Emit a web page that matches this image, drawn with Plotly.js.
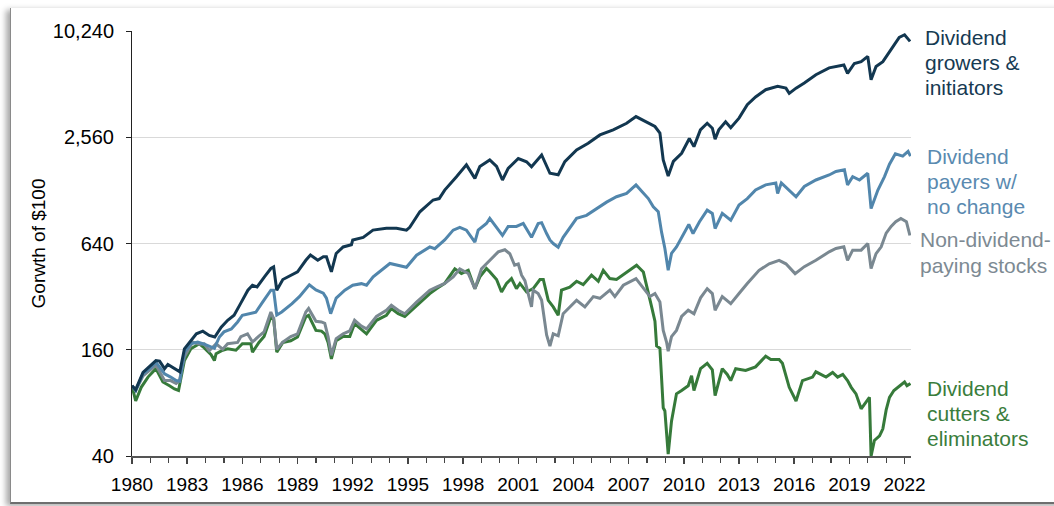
<!DOCTYPE html>
<html>
<head>
<meta charset="utf-8">
<script src="https://cdn.plot.ly/plotly-3.0.1.min.js"></script>
<style>
  html, body { margin: 0; padding: 0; background: #ffffff; }
  #frame { position: absolute; left: 10px; top: 8px; width: 1100px; height: 494px;
           background: #ffffff; border-left: 1px solid #8a8a8a; border-bottom: 2px solid #6e6e6e;
           box-shadow: -4px 2px 6px rgba(0,0,0,0.35); }
  #chart { position: absolute; left: 0; top: 0; width: 1054px; height: 506px; }
</style>
</head>
<body>
<div id="frame"></div>
<div id="chart"></div>
<script>
// ---- Data (growth of $100) ----
const growersYears = [1980.0,1980.2,1980.6,1980.95,1981.3,1981.5,1981.77,1981.95,1982.2,1982.5,1982.6,1982.85,1983.2,1983.5,1983.85,1984.2,1984.5,1984.85,1985.2,1985.55,1985.9,1986.3,1986.55,1986.8,1987.2,1987.55,1987.7,1987.87,1988.2,1988.5,1989.0,1989.45,1989.7,1990.1,1990.4,1990.57,1990.84,1991.1,1991.48,1991.93,1992.0,1992.57,1993.1,1993.83,1994.38,1994.92,1995.1,1995.65,1996.37,1996.7,1997.0,1997.64,1998.18,1998.64,1998.91,1999.45,1999.82,2000.14,2000.45,2001.0,2001.45,2001.72,2002.27,2002.72,2003.17,2003.53,2004.17,2004.8,2005.44,2006.16,2006.89,2007.4,2007.98,2008.43,2008.7,2008.88,2009.15,2009.43,2009.88,2010.3,2010.55,2010.9,2011.27,2011.55,2011.7,2011.9,2012.27,2012.55,2013.0,2013.45,2013.9,2014.45,2015.1,2015.55,2015.73,2016.1,2016.55,2017.18,2017.9,2018.27,2018.7,2018.9,2019.27,2019.64,2020.0,2020.18,2020.45,2020.82,2021.15,2021.45,2021.71,2022.0,2022.1,2022.3];
const growersValues = [100,95,119,129,139,138,125,132,127,122,120,162,181,197,204,193,189,215,235,251,292,348,371,363,414,462,472,348,400,414,442,514,551,514,539,538,442,562,612,630,670,693,762,780,780,762,790,968,1129,1150,1285,1530,1786,1497,1749,1903,1749,1466,1707,1940,1860,1741,2033,1600,1570,1862,2170,2366,2639,2819,3072,3353,3130,2944,2700,1903,1542,1868,2076,2517,2265,2818,3072,2881,2500,2818,3130,2900,3285,3912,4327,4762,4970,4860,4540,4860,5200,5790,6330,6450,6570,5890,6700,6860,7350,5420,6450,6860,7680,8600,9420,9750,9420,8940];

const payersYears = [1980.0,1980.2,1980.6,1980.95,1981.3,1981.77,1982.1,1982.4,1982.6,1982.85,1983.2,1983.57,1983.93,1984.3,1984.48,1984.75,1985.0,1985.4,1985.74,1986.0,1986.37,1986.73,1987.1,1987.55,1987.7,1987.87,1988.14,1988.7,1989.1,1989.64,1990.0,1990.4,1990.57,1990.8,1991.1,1991.57,1992.0,1992.47,1992.75,1993.11,1994.02,1994.56,1994.92,1995.47,1996.19,1996.46,1997.0,1997.46,1997.82,1998.18,1998.64,1998.82,1999.27,1999.45,1999.82,2000.14,2000.45,2000.9,2001.27,2001.72,2002.08,2002.27,2002.54,2002.72,2002.9,2003.17,2003.44,2003.8,2004.17,2004.71,2005.26,2005.8,2006.34,2006.89,2007.4,2007.8,2008.07,2008.34,2008.61,2008.79,2008.97,2009.15,2009.33,2009.6,2009.88,2010.27,2010.5,2010.85,2011.27,2011.55,2011.7,2012.09,2012.55,2013.0,2013.45,2013.9,2014.45,2015.0,2015.1,2015.3,2016.1,2016.55,2017.18,2017.9,2018.27,2018.73,2018.9,2019.18,2019.55,2020.0,2020.18,2020.55,2020.91,2021.18,2021.5,2021.9,2022.19,2022.32];
const payersValues = [100,94,117,125,136,117,112,107,106,155,173,177,172,167,163,189,202,210,230,251,256,261,298,348,348,252,262,292,320,373,349,335,314,256,314,348,371,379,371,414,493,481,469,549,612,598,671,762,791,762,651,762,831,888,791,711,800,800,831,694,831,840,729,670,640,610,694,778,888,924,1007,1098,1178,1231,1375,1231,1150,1033,968,742,600,452,562,612,694,820,729,850,989,948,778,948,868,1058,1150,1286,1375,1410,1230,1410,1178,1346,1466,1565,1637,1677,1375,1532,1466,1600,1010,1286,1532,1800,2064,2000,2130,2000];

const nonPayersYears = [1980.0,1980.2,1980.6,1980.95,1981.3,1981.77,1982.1,1982.4,1982.58,1982.85,1983.3,1983.66,1983.93,1984.2,1984.57,1984.93,1985.2,1985.74,1985.92,1986.28,1986.55,1986.9,1987.18,1987.55,1987.7,1987.87,1988.2,1988.63,1989.0,1989.45,1989.6,1990.0,1990.3,1990.48,1990.66,1990.84,1991.1,1991.48,1991.84,1992.1,1992.47,1992.75,1993.29,1993.83,1994.1,1994.47,1994.83,1995.47,1996.19,1996.55,1997.0,1997.46,1997.82,1998.28,1998.64,1999.0,1999.45,1999.91,2000.27,2000.54,2000.8,2001.0,2001.18,2001.36,2001.72,2001.81,2002.08,2002.27,2002.54,2002.72,2002.9,2003.17,2003.44,2003.8,2004.17,2004.62,2005.08,2005.44,2005.98,2006.25,2006.71,2007.4,2007.8,2008.16,2008.43,2008.7,2008.88,2009.06,2009.15,2009.33,2009.6,2009.88,2010.24,2010.55,2010.91,2011.27,2011.55,2011.7,2012.09,2012.55,2013.0,2013.45,2014.09,2014.64,2015.18,2015.55,2016.05,2016.55,2017.18,2017.9,2018.27,2018.7,2018.9,2019.18,2019.64,2020.0,2020.18,2020.45,2020.73,2021.0,2021.27,2021.52,2021.8,2022.1,2022.29];
const nonPayersValues = [100,94,114,122,131,107,107,103,107,146,177,172,173,158,173,161,173,176,190,197,177,191,202,262,240,161,177,190,197,262,274,232,230,226,190,149,185,197,205,235,218,210,247,268,286,268,256,298,348,362,380,414,460,433,355,460,514,574,590,560,482,490,423,394,280,348,333,305,194,168,197,192,256,280,305,280,320,313,348,320,371,405,355,320,333,298,206,177,157,190,206,247,268,256,315,355,333,268,320,292,333,380,451,491,514,491,432,473,514,574,600,613,514,587,587,640,462,561,613,733,800,850,888,850,711];

const cuttersYears = [1980.0,1980.2,1980.5,1980.87,1981.3,1981.68,1982.04,1982.31,1982.53,1982.85,1983.2,1983.66,1983.93,1984.3,1984.48,1984.57,1984.93,1985.2,1985.65,1986.0,1986.46,1986.55,1986.9,1987.18,1987.55,1987.7,1987.87,1988.2,1988.63,1989.0,1989.45,1989.6,1990.0,1990.3,1990.48,1990.66,1990.84,1991.1,1991.48,1991.84,1992.1,1992.47,1992.75,1993.29,1993.83,1994.1,1994.47,1994.83,1995.47,1996.19,1996.55,1997.0,1997.55,1997.91,1998.28,1998.64,1998.91,1999.27,1999.45,1999.82,2000.09,2000.36,2000.63,2000.9,2001.09,2001.45,2001.81,2002.18,2002.36,2002.63,2002.9,2003.17,2003.35,2003.8,2004.17,2004.53,2004.98,2005.35,2005.62,2005.98,2006.34,2006.8,2007.43,2007.8,2007.98,2008.25,2008.43,2008.52,2008.7,2008.88,2008.97,2009.15,2009.33,2009.6,2009.88,2010.24,2010.42,2010.55,2010.91,2011.27,2011.55,2011.7,2012.09,2012.36,2012.55,2012.82,2013.36,2013.9,2014.45,2014.73,2015.18,2015.36,2015.73,2016.1,2016.45,2017.0,2017.18,2017.73,2018.09,2018.36,2018.64,2018.9,2019.1,2019.36,2019.64,2020.09,2020.18,2020.36,2020.64,2020.82,2021.0,2021.18,2021.42,2021.71,2022.0,2022.13,2022.32];
const cuttersValues = [100,82,98,112,125,105,100,96,94,139,162,173,164,150,139,152,159,162,159,173,173,155,176,190,246,240,155,176,180,189,246,251,206,204,197,176,142,180,190,190,225,210,197,235,251,274,256,247,286,333,355,380,460,433,451,355,414,462,443,400,340,380,405,355,380,340,355,400,400,305,280,251,348,362,391,374,423,391,451,405,400,432,482,441,362,280,232,168,163,75,72,41,63,90,94,100,114,94,125,134,123,88,125,116,107,125,122,128,147,141,141,134,98,82,107,112,120,112,119,112,116,107,98,90,74,86,40,49,52,57,73,86,94,100,105,100,103];

const seriesNames = ["Dividend cutters & eliminators", "Non-dividend-paying stocks", "Dividend payers w/ no change", "Dividend growers & initiators"];
const seriesLabelLines = [
  ["Dividend", "cutters &", "eliminators"],
  ["Non-dividend-", "paying stocks"],
  ["Dividend", "payers w/", "no change"],
  ["Dividend", "growers &", "initiators"]
];
const xTickYears = [1980,1983,1986,1989,1992,1995,1998,2001,2004,2007,2010,2013,2016,2019,2022];
const yTickValues = [40,160,640,2560,10240];
const yTickLabels = ["40","160","640","2,560","10,240"];
const yAxisTitle = "Gorwth of $100";

// ---- Styles ----
const colors = ["#367a3a", "#7a8891", "#5186ac", "#123750"];
const labelColors = ["#3a7d3c", "#7d8a93", "#5a8ab0", "#163a52"];
const plotTop = 31, plotH = 425, plotL = 132, plotW = 779;
const labelLeftPx = [926, 919, 926, 924];          // left edge of each label, px
const labelFirstLinePx = [388, 240, 156, 37];       // centre of first line, px
const lineStepPx = 25;
const FONT = "Liberation Sans, Arial, Helvetica, sans-serif";

const xs = [cuttersYears, nonPayersYears, payersYears, growersYears];
const ys = [cuttersValues, nonPayersValues, payersValues, growersValues];

const traces = xs.map((x, i) => ({
  type: "scatter", mode: "lines", x: x, y: ys[i], name: seriesNames[i],
  line: {color: colors[i], width: 3}, hoverinfo: "skip"
}));

const annotations = [];
seriesLabelLines.forEach((lines, i) => {
  lines.forEach((t, k) => {
    annotations.push({
      xref: "paper", yref: "paper",
      x: (labelLeftPx[i] - plotL) / plotW,
      y: 1 - (labelFirstLinePx[i] + k * lineStepPx - plotTop) / plotH,
      xanchor: "left", yanchor: "middle", align: "left", showarrow: false,
      borderpad: 0, text: t, font: {family: FONT, size: 21, color: labelColors[i]}
    });
  });
});

const layout = {
  width: 1054, height: 506,
  margin: {l: 132, r: 143, t: 31, b: 50},
  paper_bgcolor: "rgba(0,0,0,0)", plot_bgcolor: "rgba(0,0,0,0)",
  showlegend: false,
  font: {family: FONT, color: "#000"},
  xaxis: {
    range: [1980, 2022.35], tickvals: xTickYears, ticktext: xTickYears.map(String),
    ticks: "outside", ticklen: 6, tickwidth: 1.5, tickcolor: "#444",
    showline: true, linecolor: "#555", linewidth: 2, showgrid: false, zeroline: false,
    tickfont: {size: 19, color: "#000"}, ticklabelstandoff: 4,
    minor: {dtick: 1, tick0: 1980, ticks: "outside", ticklen: 5, tickwidth: 1.2, tickcolor: "#444", showgrid: false}
  },
  yaxis: {
    type: "log", range: [Math.log10(40), Math.log10(10240)],
    tickvals: yTickValues, ticktext: yTickLabels,
    ticks: "outside", ticklen: 5, tickcolor: "#222",
    showline: true, linecolor: "#222", linewidth: 1, zeroline: false,
    showgrid: true, gridcolor: "#d9d9d9", gridwidth: 1.2,
    tickfont: {size: 20, color: "#000"}, ticklabelstandoff: 8,
    title: {text: yAxisTitle, font: {size: 19, color: "#000"}, standoff: 2}
  },
  annotations: annotations
};

Plotly.newPlot("chart", traces, layout, {staticPlot: true, displayModeBar: false});
</script>
</body>
</html>
